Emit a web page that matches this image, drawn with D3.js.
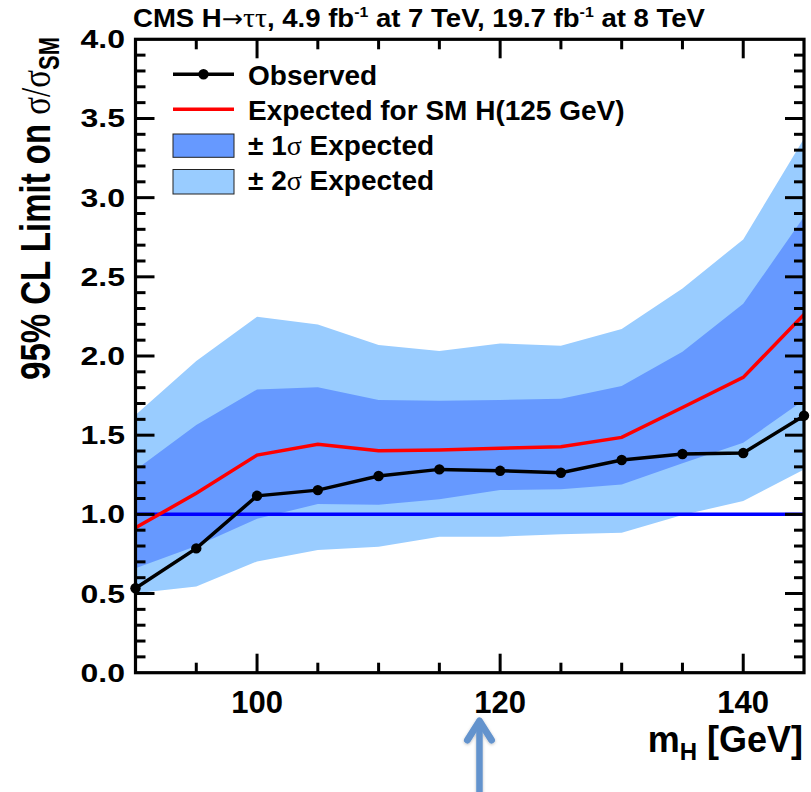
<!DOCTYPE html>
<html>
<head>
<meta charset="utf-8">
<script src="https://cdn.jsdelivr.net/npm/d3@7"></script>
<style>
  html, body { margin: 0; padding: 0; background: #fff; }
  svg { display: block; }
  text { font-family: "Liberation Sans", Arial, Helvetica, sans-serif; font-weight: bold; fill: #000; }
  .serif { font-family: "Liberation Serif", "Times New Roman", serif; font-weight: normal; }
  .sym { font-family: "DejaVu Sans", sans-serif; font-weight: normal; }
</style>
</head>
<body>
<svg id="chart" width="811" height="792"></svg>
<script>
// Higgs mass points (GeV)
const mass = [90, 95, 100, 105, 110, 115, 120, 125, 130, 135, 140, 145];
// Observed 95% CL limit on sigma/sigma_SM
const observed = [0.533, 0.785, 1.117, 1.153, 1.242, 1.284, 1.275, 1.263, 1.343, 1.381, 1.387, 1.623];
// Expected limit in presence of SM H(125 GeV)
const expected = [0.915, 1.133, 1.374, 1.442, 1.402, 1.406, 1.417, 1.427, 1.486, 1.675, 1.865, 2.262];
// ±1 sigma expected band
const minus1 = [0.659, 0.800, 0.972, 1.065, 1.061, 1.095, 1.153, 1.158, 1.189, 1.322, 1.452, 1.722];
const plus1  = [1.280, 1.564, 1.789, 1.802, 1.722, 1.717, 1.722, 1.730, 1.810, 2.027, 2.330, 2.879];
// ±2 sigma expected band
const minus2 = [0.501, 0.545, 0.703, 0.775, 0.796, 0.859, 0.859, 0.874, 0.884, 0.996, 1.084, 1.284];
const plus2  = [1.627, 1.968, 2.248, 2.199, 2.069, 2.031, 2.079, 2.065, 2.170, 2.427, 2.736, 3.374];
// Axis ticks
const xMajorTicks = [100, 120, 140];
const xMinorTicks = [95, 100, 105, 110, 115, 120, 125, 130, 135, 140];
const yMajorTicks = [0.0, 0.5, 1.0, 1.5, 2.0, 2.5, 3.0, 3.5, 4.0];
const yMinorTicks = d3.range(1, 40).map(i => i / 10);
const smReference = 1.0;

const svg = d3.select("#chart");
const x = d3.scaleLinear().domain([90, 145]).range([135.5, 804]);
const y = d3.scaleLinear().domain([0, 4]).range([672.7, 39.3]);
const [x0, x1] = x.range();
const [y0, y1] = y.range();

svg.append("defs").append("clipPath").attr("id", "plotClip")
  .append("rect").attr("x", x0).attr("y", y1).attr("width", x1 - x0).attr("height", y0 - y1);

const rows = mass.map((m, i) => ({ m, obs: observed[i], exp: expected[i],
  lo1: minus1[i], hi1: plus1[i], lo2: minus2[i], hi2: plus2[i] }));

const plot = svg.append("g").attr("clip-path", "url(#plotClip)");

const band = (lo, hi) => d3.area().x(d => x(d.m)).y0(d => y(d[lo])).y1(d => y(d[hi]));
plot.append("path").datum(rows).attr("d", band("lo2", "hi2")).attr("fill", "#99ccff");
plot.append("path").datum(rows).attr("d", band("lo1", "hi1")).attr("fill", "#6699ff");

// SM reference line
plot.append("line").attr("x1", x0).attr("x2", x1)
  .attr("y1", y(smReference)).attr("y2", y(smReference))
  .attr("stroke", "#0000ff").attr("stroke-width", 3.5);

const line = key => d3.line().x(d => x(d.m)).y(d => y(d[key]));
plot.append("path").datum(rows).attr("d", line("exp"))
  .attr("fill", "none").attr("stroke", "#ff0000").attr("stroke-width", 3.5);
svg.append("path").datum(rows).attr("d", line("obs"))
  .attr("fill", "none").attr("stroke", "#000").attr("stroke-width", 3.5);
svg.append("g").selectAll("circle").data(rows).join("circle")
  .attr("cx", d => x(d.m)).attr("cy", d => y(d.obs)).attr("r", 5.2).attr("fill", "#000");

// Frame with mirrored ticks on all four sides
const ticks = svg.append("g").attr("stroke", "#000").attr("stroke-width", 3);
const majLen = 19, minLen = 10;
xMinorTicks.forEach(v => {
  const len = xMajorTicks.includes(v) ? majLen : minLen;
  ticks.append("line").attr("x1", x(v)).attr("x2", x(v)).attr("y1", y0).attr("y2", y0 - len);
  ticks.append("line").attr("x1", x(v)).attr("x2", x(v)).attr("y1", y1).attr("y2", y1 + len);
});
yMinorTicks.forEach(v => {
  const major = yMajorTicks.some(t => Math.abs(t - v) < 1e-9);
  const len = major ? majLen : minLen;
  ticks.append("line").attr("y1", y(v)).attr("y2", y(v)).attr("x1", x0).attr("x2", x0 + len);
  ticks.append("line").attr("y1", y(v)).attr("y2", y(v)).attr("x1", x1).attr("x2", x1 - len);
});
svg.append("rect").attr("x", x0).attr("y", y1).attr("width", x1 - x0).attr("height", y0 - y1)
  .attr("fill", "none").attr("stroke", "#000").attr("stroke-width", 3.2);

// Tick labels
svg.append("g").selectAll("text").data(xMajorTicks).join("text")
  .attr("x", d => x(d)).attr("y", 713).attr("text-anchor", "middle")
  .attr("font-size", 31).text(d => d);
svg.append("g").selectAll("g").data(yMajorTicks).join("g")
  .attr("transform", d => `translate(125,${y(d)}) scale(1.28,1)`)
  .append("text").attr("text-anchor", "end").attr("dy", "0.36em")
  .attr("font-size", 25).text(d => d.toFixed(1));

// Axis titles
const xt = svg.append("text").attr("x", 803).attr("y", 752).attr("text-anchor", "end").attr("font-size", 36);
xt.append("tspan").text("m");
xt.append("tspan").attr("font-size", 24).attr("dy", 8).text("H");
xt.append("tspan").attr("dy", -8).text(" [GeV]");

const yt = svg.append("text").attr("text-anchor", "end").attr("font-size", 33)
  .attr("transform", "translate(50,37) rotate(-90) scale(1,1.3)");
yt.append("tspan").text("95% CL Limit on ");
yt.append("tspan").attr("class", "serif").text("σ/σ");
yt.append("tspan").attr("font-size", 22).attr("dy", 7).text("SM");

// Header
const title = svg.append("text").attr("x", 133).attr("y", 27).attr("font-size", 26)
  .attr("textLength", 572).attr("lengthAdjust", "spacingAndGlyphs");
title.append("tspan").text("CMS H");
title.append("tspan").attr("class", "sym").attr("font-size", 24).text("→");
title.append("tspan").attr("class", "serif").attr("font-size", 28).text("ττ");
title.append("tspan").text(", 4.9 fb");
title.append("tspan").attr("font-size", 15).attr("dy", -10).text("-1");
title.append("tspan").attr("dy", 10).text(" at 7 TeV, 19.7 fb");
title.append("tspan").attr("font-size", 15).attr("dy", -10).text("-1");
title.append("tspan").attr("dy", 10).text(" at 8 TeV");

// Legend
const lg = svg.append("g");
const lx0 = 173, lx1 = 234, ltx = 248;
lg.append("line").attr("x1", lx0).attr("x2", lx1).attr("y1", 74.3).attr("y2", 74.3)
  .attr("stroke", "#000").attr("stroke-width", 3.5);
lg.append("circle").attr("cx", (lx0 + lx1) / 2).attr("cy", 74.3).attr("r", 5.2).attr("fill", "#000");
lg.append("line").attr("x1", lx0).attr("x2", lx1).attr("y1", 109.3).attr("y2", 109.3)
  .attr("stroke", "#ff0000").attr("stroke-width", 3.5);
lg.append("rect").attr("x", lx0).attr("y", 134).attr("width", lx1 - lx0).attr("height", 23.3)
  .attr("fill", "#6699ff").attr("stroke", "#222").attr("stroke-width", 1);
lg.append("rect").attr("x", lx0).attr("y", 169.5).attr("width", lx1 - lx0).attr("height", 24.5)
  .attr("fill", "#99ccff").attr("stroke", "#222").attr("stroke-width", 1);
const legText = (yy, parts) => {
  const t = lg.append("text").attr("x", ltx).attr("y", yy).attr("font-size", 28);
  parts.forEach(([s, serif]) => { const sp = t.append("tspan").text(s); if (serif) sp.attr("class", "serif"); });
};
legText(85, [["Observed"]]);
legText(120, [["Expected for SM H(125 GeV)"]]);
legText(155, [["± 1"], ["σ", true], [" Expected"]]);
legText(190, [["± 2"], ["σ", true], [" Expected"]]);

// Pointer arrow below the mass axis
const arrowColor = "#6393cd";
const filt = svg.select("defs").append("filter").attr("id", "soft")
  .attr("x", "-50%").attr("y", "-20%").attr("width", "200%").attr("height", "140%");
filt.append("feDropShadow").attr("dx", 0).attr("dy", 1).attr("stdDeviation", 1.5)
  .attr("flood-color", "#000").attr("flood-opacity", 0.25);
const arrowX = x(118.3);
const arrow = svg.append("g").attr("filter", "url(#soft)").attr("stroke", arrowColor)
  .attr("fill", "none").attr("stroke-linecap", "round").attr("stroke-linejoin", "round");
arrow.append("line").attr("x1", arrowX).attr("x2", arrowX).attr("y1", 800).attr("y2", 722).attr("stroke-width", 6.5);
arrow.append("polyline").attr("points", `${arrowX - 12},${740} ${arrowX},${721} ${arrowX + 12},${740}`)
  .attr("stroke-width", 7);
</script>
</body>
</html>
